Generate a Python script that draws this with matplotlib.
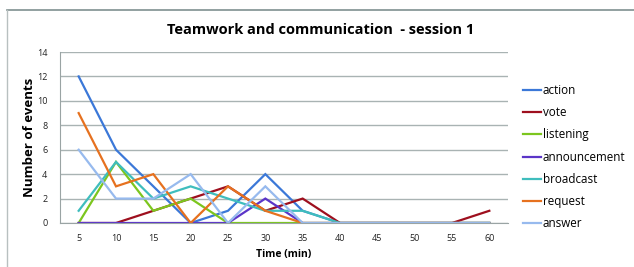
import matplotlib
matplotlib.use("Agg")
import matplotlib.pyplot as plt
from matplotlib.lines import Line2D

plt.rcParams['font.family'] = ['Open Sans', 'DejaVu Sans']

times = [5, 10, 15, 20, 25, 30, 35, 40, 45, 50, 55, 60]
action = [12, 6, 3, 0, 1, 4, 1, 0, 0, 0, 0, 0]
vote = [0, 0, 1, 2, 3, 1, 2, 0, 0, 0, 0, 1]
listening = [0, 5, 1, 2, 0, 0, 0, 0, 0, 0, 0, 0]
announcement = [0, 0, 0, 0, 0, 2, 0, 0, 0, 0, 0, 0]
broadcast = [1, 5, 2, 3, 2, 1, 1, 0, 0, 0, 0, 0]
request = [9, 3, 4, 0, 3, 1, 0, 0, 0, 0, 0, 0]
answer = [6, 2, 2, 4, 0, 3, 0, 0, 0, 0, 0, 0]

series = [
    ("action", action, "#3b78d8"),
    ("vote", vote, "#9e0f1e"),
    ("listening", listening, "#7cc61e"),
    ("announcement", announcement, "#5b35c8"),
    ("broadcast", broadcast, "#3fbdbd"),
    ("request", request, "#e6711f"),
    ("answer", answer, "#97baee"),
]

W, H = 634, 267
fig = plt.figure(figsize=(W / 100, H / 100), dpi=100)
ax = fig.add_axes([60 / W, (H - 223) / H, 448 / W, 171 / H])

handles = []
for name, vals, col in series:
    ln, = ax.plot(times, vals, color=col, lw=1.6, solid_joinstyle='miter', label=name)
    handles.append(ln)

ax.set_xlim(2.5, 62.5)
ax.set_ylim(0, 14)
ax.set_xticks(times)
ax.set_yticks(range(0, 15, 2))
ax.tick_params(axis='both', length=0, labelsize=6.5, colors='#222222')
ax.tick_params(axis='y', pad=9)
ax.tick_params(axis='x', pad=8)
ax.grid(axis='y', color='#a9b3b3', lw=1)
ax.set_axisbelow(True)
for s in ['top', 'right']:
    ax.spines[s].set_visible(False)
ax.spines['left'].set_color('#9aa4a4')
ax.spines['bottom'].set_color('#9aa4a4')

ax.set_ylabel("Number of events", fontsize=9.5, fontweight='bold', labelpad=1)
ax.set_xlabel("Time (min)", fontsize=7.5, fontweight='bold', labelpad=4)

fig.text(321 / W, 1 - 30 / H, "Teamwork and communication  - session 1",
         ha='center', va='center', fontsize=10.5, fontweight='bold')

fig.legend(handles=handles, loc='upper left', bbox_to_anchor=(523 / W, 1 - 84 / H),
           frameon=False, fontsize=8.4, handlelength=1.5, handletextpad=0.2,
           labelspacing=0.79, borderaxespad=0, borderpad=0)

# chart border (top and left only, as in reference)
fig.add_artist(Line2D([7 / W, 1], [1 - 10 / H, 1 - 10 / H], transform=fig.transFigure,
                      color='#7f9090', lw=1.2))
fig.add_artist(Line2D([7 / W, 7 / W], [0, 1 - 10 / H], transform=fig.transFigure,
                      color='#b8c0c0', lw=1.0))

fig.savefig("out.png", dpi=100)
